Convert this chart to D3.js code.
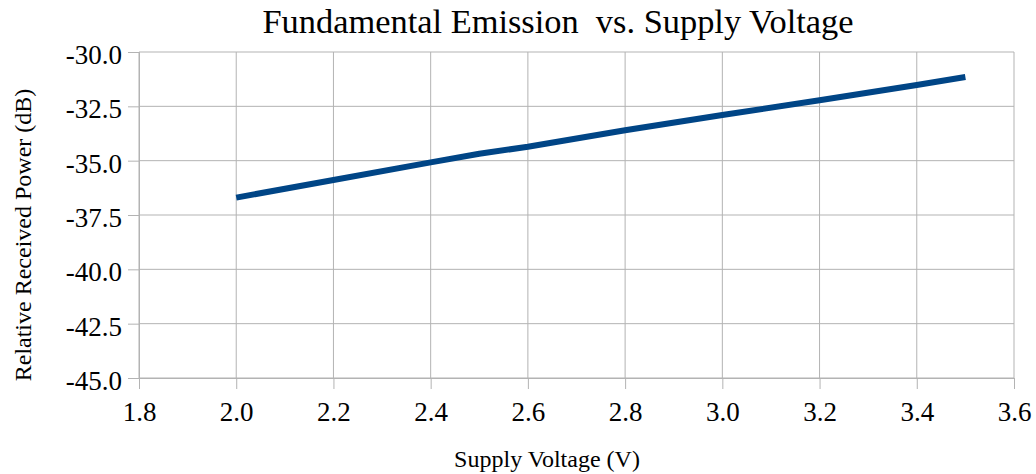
<!DOCTYPE html>
<html>
<head>
<meta charset="utf-8">
<script src="https://cdn.jsdelivr.net/npm/d3@7"></script>
<style>
  body { margin: 0; background: #fff; }
</style>
</head>
<body>
<svg id="chart"></svg>
<script>
const voltage = [2.0, 2.2, 2.4, 2.5, 2.6, 2.8, 3.0, 3.2, 3.4, 3.5];
const power = [-36.7, -35.89, -35.08, -34.68, -34.36, -33.6, -32.9, -32.22, -31.52, -31.15];
const xTicks = [1.8, 2.0, 2.2, 2.4, 2.6, 2.8, 3.0, 3.2, 3.4, 3.6];
const yTicks = [-30, -32.5, -35, -37.5, -40, -42.5, -45];

const width = 1036, height = 474;
const margin = { top: 52, left: 139, bottom: 96, right: 22 };
const iwidth = width - margin.left - margin.right;
const iheight = height - margin.top - margin.bottom;
const serif = 'Liberation Serif';

const svg = d3.select('#chart').attr('width', width).attr('height', height);

const x = d3.scaleLinear().domain([1.8, 3.6]).range([0, iwidth]);
const y = d3.scaleLinear().domain([-45, -30]).range([iheight, 0]);

const g = svg.append('g').attr('transform', `translate(${margin.left},${margin.top})`);

// grid
g.append('g').selectAll('line').data(xTicks).enter().append('line')
  .attr('x1', d => x(d)).attr('x2', d => x(d))
  .attr('y1', 0).attr('y2', iheight)
  .attr('stroke', '#b3b3b3').attr('stroke-width', 1);
g.append('g').selectAll('line').data(yTicks).enter().append('line')
  .attr('x1', 0).attr('x2', iwidth)
  .attr('y1', d => y(d)).attr('y2', d => y(d))
  .attr('stroke', '#b3b3b3').attr('stroke-width', 1);

// axes
const fmt = d => d3.format('.1f')(d).replace('−', '-');
const xAxis = g.append('g')
  .attr('transform', `translate(0,${iheight})`)
  .call(d3.axisBottom(x).tickValues(xTicks).tickSize(11).tickPadding(8).tickFormat(fmt));
const yAxis = g.append('g')
  .call(d3.axisLeft(y).tickValues(yTicks).tickSize(11).tickPadding(6).tickFormat(fmt));

[xAxis, yAxis].forEach(a => {
  a.attr('font-family', serif).attr('font-size', 27);
  a.select('.domain').attr('stroke', '#b3b3b3');
  a.selectAll('.tick line').attr('stroke', '#b3b3b3');
  a.selectAll('.tick text').attr('fill', '#000');
});
xAxis.selectAll('.tick text').attr('y', 43).attr('dy', 0);
yAxis.selectAll('.tick text').attr('dy', '0.42em');

// line
const line = d3.line().x((d, i) => x(voltage[i])).y(d => y(d));
g.append('path').datum(power)
  .attr('d', line)
  .attr('fill', 'none')
  .attr('stroke', '#004586')
  .attr('stroke-width', 6)
  .attr('stroke-linejoin', 'round');

// titles
svg.append('text')
  .attr('x', 558).attr('y', 33)
  .attr('text-anchor', 'middle')
  .attr('font-family', serif)
  .attr('font-size', 34.4)
  .attr('xml:space', 'preserve')
  .text('Fundamental Emission  vs. Supply Voltage');

svg.append('text')
  .attr('x', 547).attr('y', 467)
  .attr('text-anchor', 'middle')
  .attr('font-family', serif)
  .attr('font-size', 24)
  .text('Supply Voltage (V)');

svg.append('text')
  .attr('transform', 'translate(31,235) rotate(-90)')
  .attr('text-anchor', 'middle')
  .attr('font-family', serif)
  .attr('font-size', 24)
  .text('Relative Received Power (dB)');
</script>
</body>
</html>
